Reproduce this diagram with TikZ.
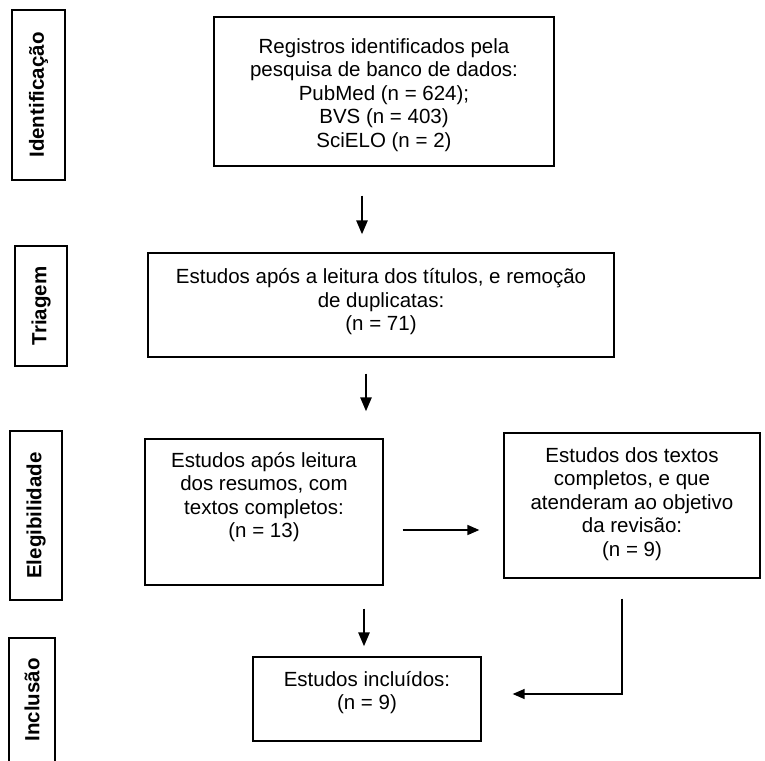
\documentclass[tikz,border=0pt]{standalone}
\usepackage{fontspec}
\setmainfont{Liberation Sans}
\usepackage{tikz}
\usetikzlibrary{calc,arrows.meta}

\tikzset{
  stagebox/.style={draw=black, line width=1.3pt, rotate=90, inner sep=0pt,
    font=\fontsize{20.5}{24}\selectfont\bfseries},
  framebox/.style={draw=black, line width=1.3pt, inner sep=0pt},
  boxtext/.style={align=center, inner sep=0pt,
    font=\fontsize{20.5}{23.5}\selectfont},
  downarrow/.style={-{Triangle[length=14pt,width=11pt]}, line width=2.6pt},
  sidearrow/.style={-{Triangle[length=12pt,width=10pt]}, line width=1.7pt},
}

\begin{document}
\begin{tikzpicture}[x=1pt, y=-1pt]

\useasboundingbox (0,0) rectangle (765,760);
\clip (0,0) rectangle (765,760);

%
% Stage labels
%
\node[stagebox, minimum width=170pt, minimum height=53pt] (ident) at (38.5,95) {Identificação};
\node[stagebox, minimum width=120pt, minimum height=52pt] (triag) at (41,306) {Triagem};
\node[stagebox, minimum width=169pt, minimum height=52pt] (eleg) at (36,515.5) {Elegibilidade};
\node[stagebox, minimum width=124pt, minimum height=46pt] (inclu) at (32,700) {Inclusão};


% Registros
\node[framebox, minimum width=340pt, minimum height=149pt] (reg) at (384,91.5) {};
\node[boxtext] (regtxt) at (384,95)
  {Registros identificados pela\\pesquisa de banco de dados:\\PubMed (n = 624);\\BVS (n = 403)\\SciELO (n = 2)};

% Triagem
\node[framebox, minimum width=466pt, minimum height=104pt] (tri) at (381,305) {};
\node[boxtext] (tritxt) at (381,302)
  {Estudos após a leitura dos títulos, e remoção\\de duplicatas:\\(n = 71)};

% Resumos
\node[framebox, minimum width=238pt, minimum height=146pt] (res) at (264,512) {};
\node[boxtext] (restxt) at (264,497)
  {Estudos após leitura\\dos resumos, com\\textos completos:\\(n = 13)};

% Textos completos
\node[framebox, minimum width=256pt, minimum height=145pt] (txt) at (632,505.5) {};
\node[boxtext] (txttxt) at (632,504)
  {Estudos dos textos\\completos, e que\\atenderam ao objetivo\\da revisão:\\(n = 9)};

% Incluidos
\node[framebox, minimum width=228pt, minimum height=84pt] (inc) at (367,699) {};
\node[boxtext] (inctxt) at (367,692.5)
  {Estudos incluídos:\\(n = 9)};


% Arrows
\draw[downarrow] ($(reg.south)+(-22,29)$) -- ($(tri.north)+(-19,-18)$);
\draw[downarrow] ($(tri.south)+(-15,16)$) -- ($(tri.south |- res.north)+(-15,-27)$);
\draw[sidearrow] ($(res.east)+(19,18)$) -- ($(txt.west |- res.east)+(-24,18)$);
\draw[downarrow] ($(res.south)+(100,23)$) -- ($(inc.north)+(-3,-10)$);
\draw[sidearrow, line width=1.4pt] ($(txt.south)+(-10,20)$) |- ($(inc.east)+(31,-5)$);

\end{tikzpicture}
\end{document}
